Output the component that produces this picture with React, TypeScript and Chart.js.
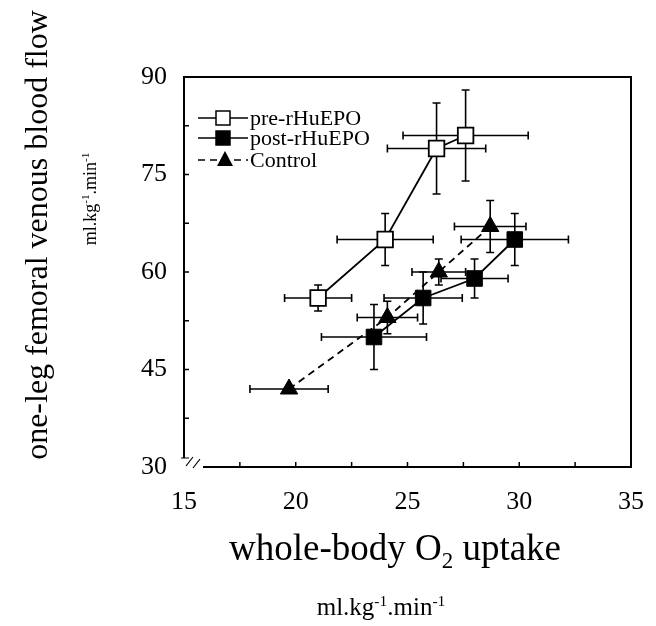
import React, { useEffect, useRef } from "react";
import { Chart, registerables } from "chart.js";
Chart.register(...registerables);

const FONT = "'Liberation Serif', 'Times New Roman', serif";

// tick labels
const xTickValues = [15, 20, 25, 30, 35];
const yTickValues = [30, 45, 60, 75, 90];

// pre-rHuEPO
const preX = [21.0, 24.0, 26.3, 27.6];
const preY = [56, 65, 79, 81];
const preXErr = [1.5, 2.15, 2.2, 2.8];
const preYErr = [2, 4, 7, 7];

// post-rHuEPO
const postX = [23.5, 25.7, 28.0, 29.8];
const postY = [50, 56, 59, 65];
const postXErr = [2.35, 1.75, 1.5, 2.4];
const postYErr = [5, 4, 3, 4];

// Control
const ctrlX = [19.7, 24.1, 26.4, 28.7];
const ctrlY = [42, 53, 60, 67];
const ctrlXErr = [1.75, 1.35, 1.2, 1.6];
const ctrlYErr = [0, 2.5, 2, 4];

const seriesNames = ["pre-rHuEPO", "post-rHuEPO", "Control"];

function build(xs: number[], ys: number[], xe: number[], ye: number[]) {
  return xs.map((x, i) => ({ x, y: ys[i], xErr: xe[i], yErr: ye[i] }));
}

type Part = { t: string; sup?: boolean; sub?: boolean };

function drawRich(ctx: CanvasRenderingContext2D, parts: Part[], size: number, x: number, y: number) {
  let cx = x;
  for (const p of parts) {
    const s = p.sup || p.sub ? size * 0.62 : size;
    ctx.font = `${s}px ${FONT}`;
    const dy = p.sup ? -size * 0.38 : p.sub ? size * 0.22 : 0;
    ctx.fillText(p.t, cx, y + dy);
    cx += ctx.measureText(p.t).width;
  }
  return cx - x;
}
function measureRich(ctx: CanvasRenderingContext2D, parts: Part[], size: number) {
  let w = 0;
  for (const p of parts) {
    const s = p.sup || p.sub ? size * 0.62 : size;
    ctx.font = `${s}px ${FONT}`;
    w += ctx.measureText(p.t).width;
  }
  return w;
}

const unitParts: Part[] = [
  { t: "ml.kg" },
  { t: "-1", sup: true },
  { t: ".min" },
  { t: "-1", sup: true },
];

const errorBarPlugin = {
  id: "errbars",
  beforeDatasetsDraw(chart: any) {
    const { ctx, scales } = chart;
    const xs = scales.x, ys = scales.y;
    ctx.save();
    ctx.strokeStyle = "#000";
    ctx.lineWidth = 1.6;
    const cap = 4;
    chart.data.datasets.forEach((ds: any) => {
      ds.data.forEach((p: any) => {
        const px = xs.getPixelForValue(p.x);
        const py = ys.getPixelForValue(p.y);
        ctx.beginPath();
        if (p.xErr) {
          const l = xs.getPixelForValue(p.x - p.xErr);
          const r = xs.getPixelForValue(p.x + p.xErr);
          ctx.moveTo(l, py); ctx.lineTo(r, py);
          ctx.moveTo(l, py - cap); ctx.lineTo(l, py + cap);
          ctx.moveTo(r, py - cap); ctx.lineTo(r, py + cap);
        }
        if (p.yErr) {
          const t = ys.getPixelForValue(p.y + p.yErr);
          const b = ys.getPixelForValue(p.y - p.yErr);
          ctx.moveTo(px, t); ctx.lineTo(px, b);
          ctx.moveTo(px - cap, t); ctx.lineTo(px + cap, t);
          ctx.moveTo(px - cap, b); ctx.lineTo(px + cap, b);
        }
        ctx.stroke();
      });
    });
    ctx.restore();
  },
};

const decorPlugin = {
  id: "decor",
  afterDraw(chart: any) {
    const { ctx, chartArea, scales } = chart;
    const xs = scales.x, ys = scales.y;
    const { left, right, top, bottom } = chartArea;
    ctx.save();
    ctx.strokeStyle = "#000";
    ctx.fillStyle = "#000";
    ctx.lineWidth = 2;
    // frame with axis break
    ctx.beginPath();
    ctx.moveTo(left, bottom - 9);
    ctx.lineTo(left, top);
    ctx.lineTo(right, top);
    ctx.lineTo(right, bottom);
    ctx.lineTo(left + 19, bottom);
    ctx.stroke();
    ctx.lineWidth = 1.2;
    ctx.beginPath();
    ctx.moveTo(left - 3, bottom - 9); ctx.lineTo(left + 5, bottom - 9);
    ctx.moveTo(left + 2, bottom - 1); ctx.lineTo(left + 9, bottom - 10);
    ctx.moveTo(left + 9, bottom + 1); ctx.lineTo(left + 16, bottom - 8);
    ctx.stroke();
    // inward ticks
    ctx.lineWidth = 1.5;
    ctx.beginPath();
    for (let v = 17.5; v < 35; v += 2.5) {
      const px = xs.getPixelForValue(v);
      ctx.moveTo(px, bottom); ctx.lineTo(px, bottom - 5);
    }
    for (let v = 37.5; v < 90; v += 7.5) {
      const py = ys.getPixelForValue(v);
      ctx.moveTo(left, py); ctx.lineTo(left + 5, py);
    }
    ctx.stroke();

    // legend
    const legendRows = [118, 138, 160];
    const lx0 = 198, lx1 = 248, mx = 223;
    chart.data.datasets.forEach((ds: any, i: number) => {
      const yy = legendRows[i];
      ctx.save();
      ctx.lineWidth = 1.5;
      ctx.setLineDash(ds.borderDash || []);
      ctx.beginPath();
      ctx.moveTo(lx0, yy); ctx.lineTo(lx1, yy);
      ctx.stroke();
      ctx.setLineDash([]);
      ctx.fillStyle = ds.pointBackgroundColor;
      ctx.strokeStyle = "#000";
      if (ds.pointStyle === "rect") {
        ctx.fillRect(mx - 7, yy - 7, 14, 14);
        ctx.strokeRect(mx - 7, yy - 7, 14, 14);
      } else {
        ctx.beginPath();
        ctx.moveTo(mx + 2, yy - 9);
        ctx.lineTo(mx + 10, yy + 6);
        ctx.lineTo(mx - 6, yy + 6);
        ctx.closePath();
        ctx.fill();
      }
      ctx.restore();
      ctx.fillStyle = "#000";
      ctx.font = `22px ${FONT}`;
      ctx.textBaseline = "middle";
      ctx.textAlign = "left";
      ctx.fillText(seriesNames[i], 250, yy + 1);
    });

    // axis titles
    ctx.textBaseline = "alphabetic";
    ctx.textAlign = "left";
    // y title
    ctx.save();
    ctx.translate(47, 235);
    ctx.rotate(-Math.PI / 2);
    ctx.font = `32px ${FONT}`;
    ctx.textAlign = "center";
    ctx.fillText("one-leg femoral venous blood flow", 0, 0);
    ctx.restore();
    // y units
    ctx.save();
    ctx.translate(96, 199);
    ctx.rotate(-Math.PI / 2);
    const wu = measureRich(ctx, unitParts, 18);
    drawRich(ctx, unitParts, 18, -wu / 2, 0);
    ctx.restore();
    // x title
    const xParts: Part[] = [{ t: "whole-body O" }, { t: "2", sub: true }, { t: " uptake" }];
    const wx = measureRich(ctx, xParts, 37);
    drawRich(ctx, xParts, 37, 395 - wx / 2, 560);
    // x units
    const wx2 = measureRich(ctx, unitParts, 25);
    drawRich(ctx, unitParts, 25, 381 - wx2 / 2, 615);
    ctx.restore();
  },
};

export default function App() {
  const ref = useRef<HTMLCanvasElement | null>(null);
  useEffect(() => {
    if (!ref.current) return;
    const chart = new Chart(ref.current, {
      type: "scatter",
      data: {
        datasets: [
          {
            label: seriesNames[0],
            data: build(preX, preY, preXErr, preYErr),
            showLine: true,
            borderColor: "#000",
            borderWidth: 1.8,
            pointStyle: "rect",
            pointRadius: 11,
            pointBackgroundColor: "#fff",
            pointBorderColor: "#000",
            pointBorderWidth: 1.8,
          } as any,
          {
            label: seriesNames[1],
            data: build(postX, postY, postXErr, postYErr),
            showLine: true,
            borderColor: "#000",
            borderWidth: 1.8,
            pointStyle: "rect",
            pointRadius: 11,
            pointBackgroundColor: "#000",
            pointBorderColor: "#000",
            pointBorderWidth: 1,
          } as any,
          {
            label: seriesNames[2],
            data: build(ctrlX, ctrlY, ctrlXErr, ctrlYErr),
            showLine: true,
            borderColor: "#000",
            borderWidth: 1.8,
            borderDash: [7, 5],
            pointStyle: "triangle",
            pointRadius: 10,
            pointBackgroundColor: "#000",
            pointBorderColor: "#000",
            pointBorderWidth: 1,
          } as any,
        ],
      },
      options: {
        responsive: false,
        devicePixelRatio: 1,
        animation: false,
        layout: { padding: { top: 77, right: 25, left: 0, bottom: 0 } },
        plugins: { legend: { display: false }, tooltip: { enabled: false } },
        scales: {
          x: {
            type: "linear",
            min: 15,
            max: 35,
            afterBuildTicks: (s: any) => {
              s.ticks = xTickValues.map((v) => ({ value: v }));
            },
            afterFit: (s: any) => {
              s.height = 159;
              s.paddingLeft = 0;
              s.paddingRight = 0;
            },
            ticks: {
              font: { family: FONT, size: 26 },
              color: "#000",
              padding: 20,
              maxRotation: 0,
              autoSkip: false,
            },
            grid: { display: false, drawTicks: false },
            border: { display: false },
          },
          y: {
            type: "linear",
            min: 30,
            max: 90,
            afterBuildTicks: (s: any) => {
              s.ticks = yTickValues.map((v) => ({ value: v }));
            },
            afterFit: (s: any) => {
              s.width = 184;
              s.paddingTop = 0;
              s.paddingBottom = 0;
            },
            ticks: {
              font: { family: FONT, size: 26 },
              color: "#000",
              padding: 17,
              autoSkip: false,
            },
            grid: { display: false, drawTicks: false },
            border: { display: false },
          },
        },
      } as any,
      plugins: [errorBarPlugin, decorPlugin],
    });
    return () => chart.destroy();
  }, []);
  return (
    <div style={{ position: "absolute", left: 0, top: 0, width: 656, height: 626, background: "#fff" }}>
      <canvas ref={ref} width={656} height={626} style={{ display: "block" }} />
    </div>
  );
}
